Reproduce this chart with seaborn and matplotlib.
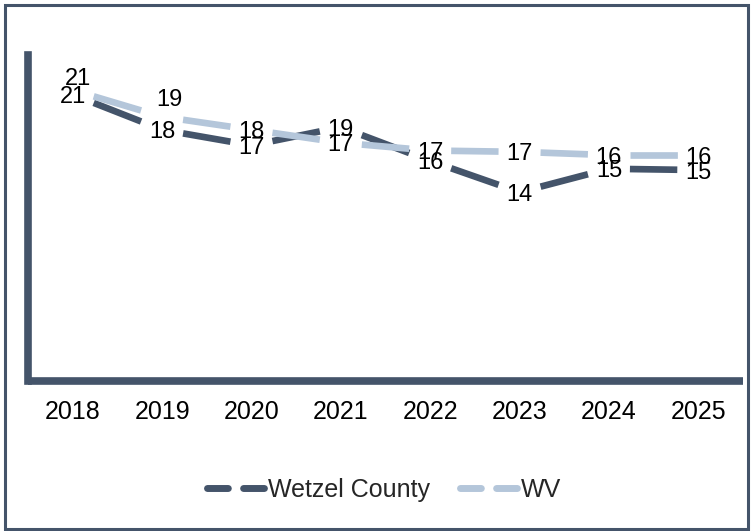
import matplotlib
matplotlib.use("Agg")
import matplotlib.pyplot as plt
from matplotlib.lines import Line2D
from matplotlib.patches import Rectangle
import seaborn as sns
import numpy as np

# chart data
years = [2018, 2019, 2020, 2021, 2022, 2023, 2024, 2025]
wetzel = [21.1, 18.4, 17.2, 18.6, 16.0, 13.6, 15.4, 15.3]
wv = [21.45, 19.4, 18.4, 17.4, 16.8, 16.7, 16.45, 16.45]
series_names = ["Wetzel County", "WV"]

DARK = "#44546A"
LIGHT = "#B4C6DA"

sns.set_theme(style="white")
plt.rcParams["font.family"] = ["Liberation Sans", "DejaVu Sans"]
plt.rcParams["lines.scale_dashes"] = False

fig = plt.figure(figsize=(7.53, 5.31), dpi=100)
ax = fig.add_axes([0.0372, 0.2825, 0.9495, 0.614])


def dashed_series(values, color):
    # Excel-style long dash: one dash centred in every segment between categories
    for i in range(len(years) - 1):
        xs, ys = years[i:i + 2], values[i:i + 2]
        sns.lineplot(x=xs, y=ys, ax=ax, color=color, linewidth=4.8)
        ax.set_xlim(2017.5, 2025.5)
        ax.set_ylim(-0.92, 24.15)
        p0, p1 = ax.transData.transform([(xs[0], ys[0]), (xs[1], ys[1])])
        seg_len = np.hypot(*(p1 - p0)) * 72 / fig.dpi
        on = 0.53 * seg_len
        gap = (seg_len - on) / 2
        off = seg_len
        line = ax.lines[-1]
        line.set_linestyle((on + off - gap, (on, off)))
        line.set_dash_capstyle("butt")


dashed_series(wetzel, DARK)
dashed_series(wv, LIGHT)

# data labels (WV's first two sit above the line)
wv_offsets = [(3.6, 10), (5, 14), (0, 0), (0, 0), (0, 0), (0, 0), (0, 0), (0, 0)]
for x, v in zip(years, wetzel):
    ax.annotate(f"{v:.0f}", (x, v), xytext=(0, 0), textcoords="offset points",
                ha="center", va="center_baseline", fontsize=17, color="black")
for (x, v), (dx, dy) in zip(zip(years, wv), wv_offsets):
    ax.annotate(f"{v:.0f}", (x, v), xytext=(dx, dy), textcoords="offset points",
                ha="center", va="center_baseline", fontsize=17, color="black")

ax.set_xticks(years)
ax.set_xticklabels([str(y) for y in years])
ax.set_yticks([])
ax.set_xlabel("")
ax.set_ylabel("")
ax.tick_params(axis="x", length=0, pad=14, labelsize=18, labelcolor="black")
for side in ["top", "right"]:
    ax.spines[side].set_visible(False)
for side in ["left", "bottom"]:
    ax.spines[side].set_color(DARK)
    ax.spines[side].set_linewidth(5.5)
ax.spines["left"].set_capstyle("projecting")
ax.spines["bottom"].set_capstyle("butt")

handles = [
    Line2D([], [], color=DARK, linewidth=5, linestyle=(0, (15, 11)), dash_capstyle="round"),
    Line2D([], [], color=LIGHT, linewidth=5, linestyle=(0, (15, 11)), dash_capstyle="round"),
]
fig.legend(handles, series_names, loc="center", bbox_to_anchor=(0.51, 0.077), ncol=2,
           frameon=False, fontsize=18, handlelength=2.3, handletextpad=0.12,
           columnspacing=1.2)

# outer chart border
fig.patches.append(Rectangle((0.0073, 0.003), 0.986, 0.9876, transform=fig.transFigure,
                             fill=False, edgecolor=DARK, linewidth=2.2))

fig.savefig("out.png", dpi=100)
